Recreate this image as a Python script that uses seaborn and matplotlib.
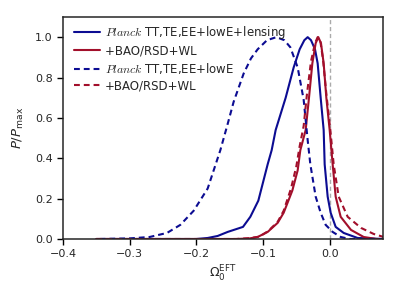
import matplotlib
matplotlib.use("Agg")
from matplotlib import pyplot as plt
from matplotlib.font_manager import FontProperties
import pandas as pd
import seaborn as sns

# values
lens_x = [-0.35, -0.20, -0.183, -0.168, -0.153, -0.13, -0.119, -0.107, -0.093, -0.087,
          -0.081, -0.066, -0.054, -0.045, -0.038, -0.033, -0.028, -0.022, -0.018, -0.0135,
          -0.009, -0.0075, -0.003, 0.0015, 0.009, 0.021, 0.042, 0.08]
lens_y = [0.0, 0.0, 0.005, 0.015, 0.035, 0.06, 0.11, 0.19, 0.37, 0.44,
          0.54, 0.70, 0.85, 0.94, 0.985, 1.0, 0.985, 0.94, 0.87, 0.70,
          0.54, 0.37, 0.21, 0.13, 0.06, 0.03, 0.005, 0.0]

lens_bao_x = [-0.35, -0.14, -0.12, -0.108, -0.093, -0.078, -0.069, -0.056, -0.048, -0.044,
              -0.036, -0.031, -0.026, -0.021, -0.017, -0.013, -0.009, -0.005, 0.0, 0.0045,
              0.009, 0.0165, 0.032, 0.051, 0.07, 0.08]
lens_bao_y = [0.0, 0.0, 0.003, 0.01, 0.035, 0.08, 0.13, 0.24, 0.34, 0.44,
              0.54, 0.70, 0.87, 0.97, 1.0, 0.97, 0.87, 0.70, 0.54, 0.37,
              0.21, 0.11, 0.045, 0.01, 0.0, 0.0]

lowe_x = [-0.345, -0.30, -0.27, -0.244, -0.224, -0.204, -0.183, -0.164, -0.153, -0.144,
          -0.129, -0.118, -0.108, -0.094, -0.08, -0.068, -0.059, -0.048, -0.039, -0.033,
          -0.029, -0.021, -0.0135, -0.006, 0.0045, 0.0165, 0.03, 0.08]
lowe_y = [0.0, 0.003, 0.01, 0.03, 0.07, 0.14, 0.25, 0.44, 0.57, 0.68,
          0.82, 0.895, 0.94, 0.985, 1.0, 0.985, 0.95, 0.85, 0.69, 0.49,
          0.37, 0.21, 0.13, 0.07, 0.035, 0.01, 0.0, 0.0]

lowe_bao_x = [-0.35, -0.14, -0.12, -0.105, -0.092, -0.078, -0.069, -0.058, -0.050, -0.045,
              -0.039, -0.034, -0.028, -0.022, -0.018, -0.014, -0.010, -0.005, 0.001, 0.006,
              0.0135, 0.027, 0.047, 0.066, 0.081]
lowe_bao_y = [0.0, 0.0, 0.004, 0.012, 0.04, 0.085, 0.14, 0.25, 0.36, 0.46,
              0.56, 0.72, 0.88, 0.97, 1.0, 0.98, 0.89, 0.72, 0.54, 0.37,
              0.21, 0.11, 0.055, 0.025, 0.01]

labels = [r"$Planck$ TT,TE,EE+lowE+lensing", "+BAO/RSD+WL ",
          r"$Planck$ TT,TE,EE+lowE", "+BAO/RSD+WL"]

frames = []
for lab, xs, ys in zip(labels, [lens_x, lens_bao_x, lowe_x, lowe_bao_x],
                       [lens_y, lens_bao_y, lowe_y, lowe_bao_y]):
    frames.append(pd.DataFrame({"omega": xs, "P": ys, "run": lab}))
df = pd.concat(frames, ignore_index=True)

blue = "#0c0c92"
red = "#a20f2b"

sns.set_style("ticks")
plt.rcParams["font.family"] = ["DejaVu Sans"]
plt.rcParams["xtick.labelsize"] = 8
plt.rcParams["ytick.labelsize"] = 8

fig = plt.figure(figsize=(4, 2.98), dpi=100)
ax = fig.add_axes([0.1575, 0.198, 0.8, 0.745])

ax.axvline(0.0, color="#aaaaaa", lw=1.0, ls=(0, (3, 2)), zorder=1)

sns.lineplot(data=df, x="omega", y="P", hue="run", style="run",
             palette=[blue, red, blue, red],
             dashes=["", "", (2.8, 1.9), (2.8, 1.9)],
             linewidth=1.5, estimator=None, ax=ax)

ax.set_xlim(-0.4, 0.08)
ax.set_ylim(0, 1.1)
ax.set_xticks([-0.4, -0.3, -0.2, -0.1, 0.0])
ax.set_yticks([0.0, 0.2, 0.4, 0.6, 0.8, 1.0])
for s in ax.spines.values():
    s.set_linewidth(1.1)
ax.tick_params(width=1.0, length=4, color="black")

ax.set_xlabel(r"$\Omega_0^{\rm EFT}$", fontsize=9, labelpad=3)
ax.set_ylabel(r"$P/P_{\rm max}$", fontsize=9.5, labelpad=6)

leg = ax.legend(frameon=False, loc="upper left", bbox_to_anchor=(0.0, 1.015),
                handlelength=2.2, handletextpad=0.45, labelspacing=0.28,
                prop=FontProperties(family="DejaVu Sans", size=8.5, math_fontfamily="cm"))

fig.savefig("out.png", dpi=100)
